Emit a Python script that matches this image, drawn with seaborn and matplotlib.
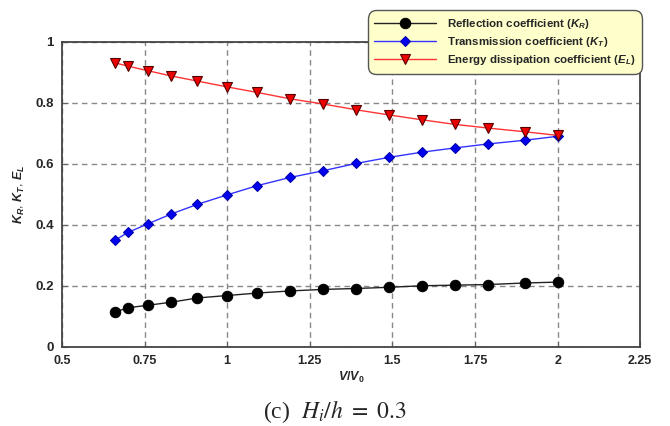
import numpy as np
import pandas as pd
import matplotlib
matplotlib.use("Agg")
import matplotlib.pyplot as plt
import seaborn as sns

# ---- data ----
v_ratio = [0.66, 0.70, 0.76, 0.83, 0.91, 1.00, 1.09, 1.19, 1.29, 1.39,
           1.49, 1.59, 1.69, 1.79, 1.90, 2.00]
k_r = [0.114, 0.128, 0.136, 0.146, 0.160, 0.168, 0.176, 0.183, 0.188, 0.191,
       0.195, 0.200, 0.202, 0.204, 0.209, 0.212]
k_t = [0.349, 0.375, 0.403, 0.435, 0.467, 0.498, 0.528, 0.555, 0.577, 0.601,
       0.621, 0.638, 0.652, 0.665, 0.677, 0.690]
e_l = [0.931, 0.920, 0.905, 0.888, 0.871, 0.852, 0.834, 0.813, 0.796, 0.777,
       0.760, 0.744, 0.729, 0.717, 0.705, 0.693]
series_labels = ["Reflection coefficient ($\\mathit{K_R}$)",
                 "Transmission coefficient ($\\mathit{K_T}$)",
                 "Energy dissipation coefficient ($\\mathit{E_L}$)"]
x_ticks = [0.5, 0.75, 1, 1.25, 1.5, 1.75, 2, 2.25]
x_tick_labels = ["0.5", "0.75", "1", "1.25", "1.5", "1.75", "2", "2.25"]
y_ticks = [0, 0.2, 0.4, 0.6, 0.8, 1.0]
y_tick_labels = ["0", "0.2", "0.4", "0.6", "0.8", "1"]

sns.set_style("white")
plt.rcParams['font.family'] = ['Liberation Sans', 'DejaVu Sans']
plt.rcParams['mathtext.fontset'] = 'custom'
plt.rcParams['mathtext.it'] = 'Liberation Sans:italic:bold'
plt.rcParams['mathtext.rm'] = 'Liberation Sans:bold'
plt.rcParams['mathtext.bf'] = 'Liberation Sans:bold'

fig = plt.figure(figsize=(6.70, 4.26), dpi=100)
ax = fig.add_axes([0.0925, 0.186, 0.863, 0.716])

df = pd.DataFrame({"x": v_ratio, "kr": k_r, "kt": k_t, "el": e_l})

sns.lineplot(data=df, x="x", y="kr", ax=ax, color="#222222", lw=1.0,
             marker="o", markersize=7.5, markerfacecolor="black",
             markeredgecolor="black", label=series_labels[0])
sns.lineplot(data=df, x="x", y="kt", ax=ax, color="#3333ff", lw=1.0,
             marker="D", markersize=5.5, markerfacecolor="#0000ee",
             markeredgecolor="#0000aa", label=series_labels[1])
sns.lineplot(data=df, x="x", y="el", ax=ax, color="#ff3333", lw=1.0,
             marker="v", markersize=7.5, markerfacecolor="#ee0000",
             markeredgecolor="#550000", markeredgewidth=0.8,
             label=series_labels[2])

ax.set_xlim(0.5, 2.25)
ax.set_ylim(0, 1)
ax.set_xticks(x_ticks)
ax.set_xticklabels(x_tick_labels, fontweight="bold", fontsize=9)
ax.set_yticks(y_ticks)
ax.set_yticklabels(y_tick_labels, fontweight="bold", fontsize=9.5)
ax.tick_params(axis="both", direction="in", length=4, width=0.8,
               color="#666666", pad=6, bottom=True, left=True)
ax.grid(True, linestyle=(0, (4, 3)), color="#888888", linewidth=1.0)
for s in ax.spines.values():
    s.set_color("#444444")
    s.set_linewidth(1.3)

ax.set_xlabel("$\\mathit{V/V_0}$", fontsize=9, labelpad=2)
ax.set_ylabel("$\\mathit{K_R}$, $\\mathit{K_T}$, $\\mathit{E_L}$", fontsize=9, labelpad=6)

leg = ax.legend(loc="upper right", bbox_to_anchor=(1.0035, 1.104),
                borderaxespad=0,
                prop={"weight": "bold", "size": 8.25}, frameon=True,
                fancybox=True, handlelength=5.4, borderpad=0.6,
                labelspacing=0.37, handletextpad=0.9)
leg.get_frame().set_facecolor("#ffffcc")
leg.get_frame().set_edgecolor("#555555")
leg.get_frame().set_alpha(1)
leg.get_frame().set_linewidth(1.0)
leg.get_frame().set_boxstyle("round,pad=0,rounding_size=0.75")

fig.text(0.5, 0.035, "(c)  $\\mathregular{\\it{H_i}/h\\ =\\ 0.3}$",
         ha="center", va="center", fontsize=17, family="Liberation Serif",
         math_fontfamily="stix")

fig.savefig("out.png", dpi=100, facecolor="white")
